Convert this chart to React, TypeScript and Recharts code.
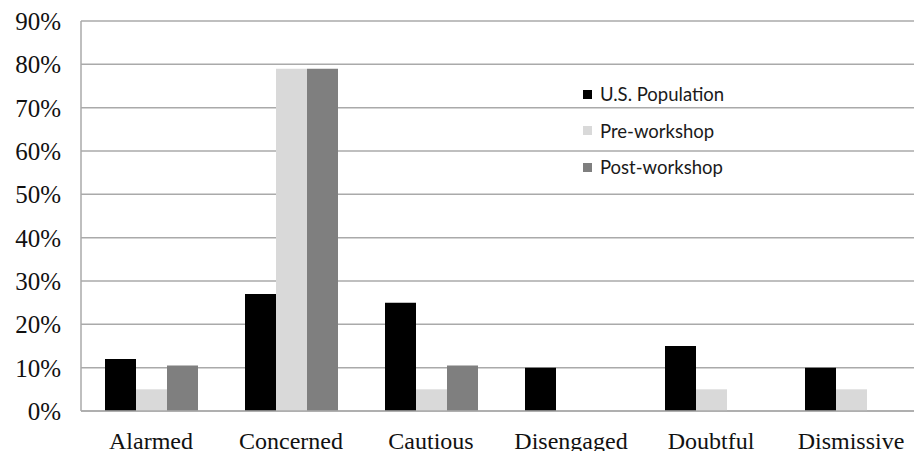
import React from 'react';
import { BarChart, Bar, XAxis, YAxis, CartesianGrid, Legend } from 'recharts';

const categories = ['Alarmed', 'Concerned', 'Cautious', 'Disengaged', 'Doubtful', 'Dismissive'];
const usPopulation = [12, 27, 25, 10, 15, 10];
const preWorkshop = [5, 79, 5, 0, 5, 5];
const postWorkshop = [10.5, 79, 10.5, 0, 0, 0];
const yTicks = [0, 10, 20, 30, 40, 50, 60, 70, 80, 90];

const seriesInfo = [
  { key: 'us', name: 'U.S. Population', color: '#000000' },
  { key: 'pre', name: 'Pre-workshop', color: '#d9d9d9' },
  { key: 'post', name: 'Post-workshop', color: '#7f7f7f' },
];

const data = categories.map((c, i) => ({
  name: c,
  us: usPopulation[i],
  pre: preWorkshop[i],
  post: postWorkshop[i],
}));

const serif = '"Liberation Serif", "Times New Roman", serif';

const LegendContent = () => (
  <div style={{ fontFamily: 'Lato, sans-serif', fontSize: 18.5, color: '#1a1a1a', whiteSpace: 'nowrap' }}>
    {seriesInfo.map((s) => (
      <div key={s.key} style={{ display: 'flex', alignItems: 'center', height: 36.5 }}>
        <span style={{ display: 'inline-block', width: 9, height: 9, background: s.color, marginRight: 8 }} />
        <span>{s.name}</span>
      </div>
    ))}
  </div>
);

export default function App() {
  return (
    <div style={{ position: 'absolute', left: 0, top: 0, width: 914, height: 451, overflow: 'hidden', background: '#fff' }}>
      <BarChart
        width={921}
        height={451}
        data={data}
        margin={{ top: 21, right: 0, left: 0, bottom: 0 }}
        barGap={0}
      >
        <CartesianGrid vertical={false} stroke="#aaaaaa" strokeWidth={1.5} />
        <XAxis
          dataKey="name"
          height={40}
          tickLine={false}
          tickSize={0}
          tickMargin={21}
          axisLine={{ stroke: '#aaaaaa', strokeWidth: 1.5 }}
          tick={{ fontFamily: serif, fontSize: 24, fill: '#111' }}
          interval={0}
        />
        <YAxis
          width={81}
          domain={[0, 90]}
          ticks={yTicks}
          tickFormatter={(v: number) => `${v}%`}
          tickLine={false}
          tickSize={0}
          tickMargin={20}
          axisLine={{ stroke: '#aaaaaa', strokeWidth: 1.5 }}
          tick={{ fontFamily: serif, fontSize: 25, fill: '#111' }}
          interval={0}
        />
        <Legend
          layout="vertical"
          align="center"
          verticalAlign="middle"
          content={<LegendContent />}
          wrapperStyle={{ position: 'absolute', left: 583, top: 76, width: 'auto', height: 'auto' }}
        />
        {seriesInfo.map((s) => (
          <Bar key={s.key} dataKey={s.key} name={s.name} fill={s.color} barSize={31} isAnimationActive={false} />
        ))}
      </BarChart>
    </div>
  );
}
